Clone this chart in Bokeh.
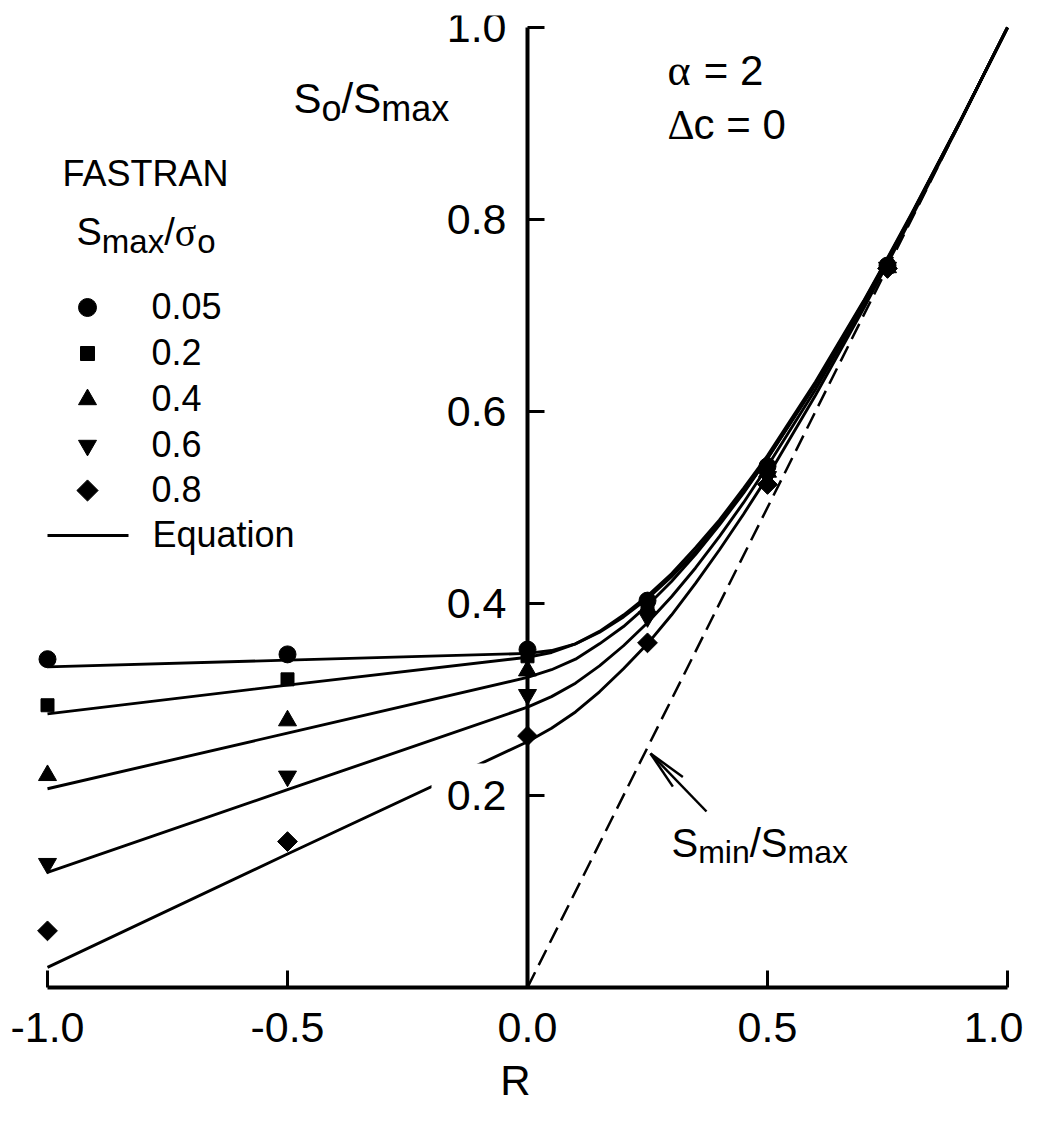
import math
from bokeh.plotting import figure
from bokeh.models import Range1d, FixedTicker, PrintfTickFormatter, Label, BoxAnnotation
from bokeh.embed import file_html
from bokeh.resources import INLINE

# ---------------- data ----------------
R_points = [-1.0, -0.5, 0.0, 0.25, 0.5, 0.75]
series_labels = ["0.05", "0.2", "0.4", "0.6", "0.8"]
fastran_005 = [0.342, 0.347, 0.352, 0.403, 0.543, 0.752]
fastran_02 = [0.294, 0.321, 0.345, 0.399, 0.540, 0.751]
fastran_04 = [0.221, 0.278, 0.330, 0.395, 0.537, 0.750]
fastran_06 = [0.129, 0.220, 0.305, 0.386, 0.532, 0.750]
fastran_08 = [0.059, 0.152, 0.262, 0.359, 0.524, 0.749]

R_curve = [-1.0, -0.5, 0.0, 0.05, 0.1, 0.15, 0.2, 0.25, 0.3, 0.35, 0.4,
           0.45, 0.5, 0.6, 0.7, 0.75, 0.8, 0.9, 1.0]
eq_005 = [0.334, 0.341, 0.348, 0.351, 0.358, 0.370, 0.386, 0.405, 0.428, 0.454,
          0.484, 0.516, 0.551, 0.628, 0.713, 0.758, 0.805, 0.901, 1.0]
eq_02 = [0.285, 0.315, 0.344, 0.349, 0.358, 0.371, 0.388, 0.408, 0.431, 0.458,
         0.487, 0.520, 0.554, 0.631, 0.715, 0.760, 0.806, 0.901, 1.0]
eq_04 = [0.207, 0.265, 0.323, 0.331, 0.342, 0.358, 0.376, 0.398, 0.423, 0.451,
         0.482, 0.515, 0.551, 0.629, 0.714, 0.759, 0.805, 0.901, 1.0]
eq_06 = [0.120, 0.206, 0.292, 0.303, 0.317, 0.335, 0.356, 0.380, 0.407, 0.437,
         0.470, 0.505, 0.543, 0.623, 0.711, 0.757, 0.804, 0.901, 1.0]
eq_08 = [0.021, 0.139, 0.256, 0.270, 0.287, 0.308, 0.332, 0.358, 0.388, 0.421,
         0.456, 0.493, 0.532, 0.617, 0.707, 0.754, 0.802, 0.900, 1.0]

smin_R = [0.0, 1.0]
smin_ratio = [0.0, 1.0]

x_ticks = [-1.0, -0.5, 0.0, 0.5, 1.0]
y_ticks = [0.2, 0.4, 0.6, 0.8, 1.0]

# ---------------- layout helpers ----------------
FONT = "Liberation Sans"
SERIF = "Liberation Serif"
X0, X1 = -1.075, 1.025
Y0, Y1 = 0.0, 1.0125
PX_PER_X = 480.0
PX_PER_Y = 960.0
FRAME_W = int(round((X1 - X0) * PX_PER_X))
FRAME_H = int(round((Y1 - Y0) * PX_PER_Y))
BORDER_L, BORDER_T = 11, 15
FRAME_LEFT_PAGE = BORDER_L
FRAME_BOTTOM_PAGE = BORDER_T + FRAME_H
LW = 2.9


def px2x(px):
    return X0 + (px - FRAME_LEFT_PAGE) / PX_PER_X


def px2y(py):
    return Y0 + (FRAME_BOTTOM_PAGE - py) / PX_PER_Y


p = figure(frame_width=FRAME_W, frame_height=FRAME_H,
           x_range=Range1d(X0, X1), y_range=Range1d(Y0, Y1),
           output_backend="svg", toolbar_location=None,
           min_border_left=BORDER_L, min_border_right=4,
           min_border_top=BORDER_T, min_border_bottom=0)
p.xgrid.visible = False
p.ygrid.visible = False
p.outline_line_color = None
p.background_fill_color = "white"
p.border_fill_color = "white"

# x axis
xa = p.xaxis[0]
xa.bounds = (-1.0, 1.0)
xa.ticker = FixedTicker(ticks=x_ticks)
xa.formatter = PrintfTickFormatter(format="%.1f")
xa.major_tick_in = 17
xa.major_tick_out = 0
xa.minor_tick_in = 0
xa.minor_tick_out = 0
xa.axis_line_width = 4
xa.major_tick_line_width = 3
xa.axis_line_color = "black"
xa.major_tick_line_color = "black"
xa.major_label_text_font = FONT
xa.major_label_text_font_size = "43px"
xa.major_label_text_color = "black"
xa.major_label_standoff = 25
xa.axis_label = "R"
xa.axis_label_text_font = FONT
xa.axis_label_text_font_size = "42px"
xa.axis_label_text_font_style = "normal"
xa.axis_label_text_color = "black"
xa.axis_label_standoff = 12

# y axis, crossing at R = 0
ya = p.yaxis[0]
ya.fixed_location = 0
ya.bounds = (0.0, 1.0)
ya.ticker = FixedTicker(ticks=y_ticks)
ya.formatter = PrintfTickFormatter(format="%.1f")
ya.major_tick_in = 17
ya.major_tick_out = 0
ya.minor_tick_in = 0
ya.minor_tick_out = 0
ya.axis_line_width = 4
ya.major_tick_line_width = 3
ya.axis_line_color = "black"
ya.major_tick_line_color = "black"
ya.major_label_text_font = FONT
ya.major_label_text_font_size = "43px"
ya.major_label_text_color = "black"
ya.major_label_standoff = 21

# equation curves
for ys in [eq_005, eq_02, eq_04, eq_06, eq_08]:
    p.line(R_curve, ys, line_color="black", line_width=LW)

# S_min/S_max dashed line
p.line(smin_R, smin_ratio, line_color="black", line_width=2.5, line_dash="17 8")

# white box behind the "0.2" tick label (the label masks the curve)
p.add_layout(BoxAnnotation(left=px2x(431), right=px2x(509), top=px2y(763), bottom=px2y(818),
                           fill_color="white", fill_alpha=1.0, line_alpha=0.0, level="glyph"))

# FASTRAN points
marker_specs = [
    (fastran_005, "circle", 17, 0.0),
    (fastran_02, "square", 13, 0.0),
    (fastran_04, "triangle", 18, 0.0),
    (fastran_06, "inverted_triangle", 18, 0.0),
    (fastran_08, "square", 14, math.pi / 4),
]
for ys, mk, sz, ang in marker_specs:
    p.scatter(R_points, ys, marker=mk, size=sz, angle=ang,
              fill_color="black", line_color="black")

# ---------------- rich text helper ----------------
ADV = {'S': 0.667, 'o': 0.556, '/': 0.278, 'm': 0.833, 'a': 0.556, 'x': 0.5,
       'i': 0.222, 'n': 0.556, ' ': 0.278, '=': 0.584, '2': 0.556, '0': 0.556,
       'c': 0.5, 'Δ': 0.62, 'α': 0.56, 'σ': 0.56}
BASELINE_FIX = 0.4   # measured: labels render ~0.4 em below the requested baseline


def rich(px, py, runs):
    x = px2x(px)
    y = px2y(py - BASELINE_FIX * runs[0][1])
    off = 0.0
    for t, size, dy, font, gap in runs:
        off += gap * size
        p.add_layout(Label(x=x, y=y, x_offset=off, y_offset=dy, text=t,
                           text_font=font, text_font_size=f"{size}px",
                           text_color="black", text_baseline="alphabetic",
                           text_align="left"))
        off += sum(ADV.get(ch, 0.556) for ch in t) * size


# y label S_o/S_max
rich(293, 115, [("S", 42, 0, FONT, 0), ("o", 36, -10, FONT, 0), ("/", 42, 0, FONT, 0),
                ("S", 42, 0, FONT, 0), ("max", 36, -10, FONT, 0)])
# parameters
rich(667, 88, [("α", 44, 0, SERIF, 0), ("= 2", 42, 0, FONT, 0.278)])
rich(667, 141, [("Δ", 42, 0, SERIF, 0), ("c = 0", 42, 0, FONT, 0)])
# S_min/S_max annotation
rich(671, 858, [("S", 40, 0, FONT, 0), ("min", 32, -9, FONT, 0), ("/", 40, 0, FONT, 0),
                ("S", 40, 0, FONT, 0), ("max", 32, -9, FONT, 0)])

# arrow pointing at the dashed line
tip = (650.0, 753.0)
tail = (706.0, 811.0)
p.line([px2x(tail[0]), px2x(tip[0])], [px2y(tail[1]), px2y(tip[1])],
       line_color="black", line_width=2.5)
dx, dy = tail[0] - tip[0], tail[1] - tip[1]
L = math.hypot(dx, dy)
ux, uy = dx / L, dy / L
for s in (-1, 1):
    a = math.radians(10) * s
    hx = tip[0] + 40 * (ux * math.cos(a) - uy * math.sin(a))
    hy = tip[1] + 40 * (ux * math.sin(a) + uy * math.cos(a))
    p.line([px2x(tip[0]), px2x(hx)], [px2y(tip[1]), px2y(hy)],
           line_color="black", line_width=2.5)

# ---------------- legend (drawn manually) ----------------
rich(62, 187, [("FASTRAN", 36, 0, FONT, 0)])
rich(76, 247, [("S", 38, 0, FONT, 0), ("max", 33, -9, FONT, 0), ("/", 38, 0, FONT, 0),
               ("σ", 40, 0, SERIF, 0), ("o", 33, -9, FONT, 0)])

leg_rows = [307, 353, 399, 445, 490]
leg_markers = [("circle", 18, 0.0), ("square", 14, 0.0), ("triangle", 18, 0.0),
               ("inverted_triangle", 18, 0.0), ("square", 15, math.pi / 4)]
for row, (mk, sz, ang), lab in zip(leg_rows, leg_markers, series_labels):
    p.scatter([px2x(87)], [px2y(row)], marker=mk, size=sz, angle=ang,
              fill_color="black", line_color="black")
    rich(151, row + 13, [(lab, 36, 0, FONT, 0)])

p.line([px2x(47), px2x(128)], [px2y(535), px2y(535)], line_color="black", line_width=LW)
rich(152, 548, [("Equation", 36, 0, FONT, 0)])

html = file_html(p, INLINE, title="So/Smax vs R")
open("out.html", "w").write(html)
